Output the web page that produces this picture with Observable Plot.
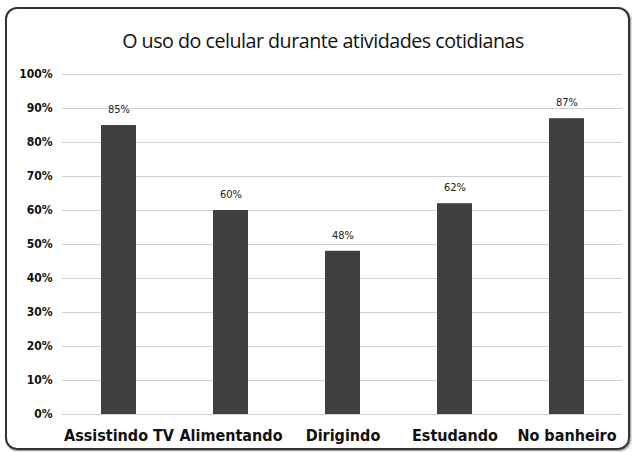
<!DOCTYPE html>
<html><head><meta charset="utf-8">
<script src="https://cdn.jsdelivr.net/npm/d3@7"></script>
<script src="https://cdn.jsdelivr.net/npm/@observablehq/plot@0.6"></script>
<style>
html,body{margin:0;padding:0;background:#fff;}
#wrap{position:relative;width:632px;height:452px;overflow:hidden;}
#box{position:absolute;left:5px;top:7px;width:621px;height:439px;border:2px solid #333;border-radius:12px;box-shadow:1px 1px 2px #888;}
#title{position:absolute;left:14px;width:618px;top:27px;text-align:center;font-family:"Open Sans",sans-serif;font-size:19.7px;color:#111;letter-spacing:-0.5px;}
#chart{position:absolute;left:0;top:0;}
#chart svg text{font-stretch:condensed;}
</style></head><body>
<div id="wrap"><div id="box"></div><div id="title">O uso do celular durante atividades cotidianas</div><div id="chart"></div></div>
<script>
const categories = ["Assistindo TV","Alimentando","Dirigindo","Estudando","No banheiro"];
const values = [85, 60, 48, 62, 87];
const yTicks = [0,10,20,30,40,50,60,70,80,90,100];
const data = categories.map((c,i)=>({cat:c, v:values[i]}));
const font = '"DejaVu Sans Condensed","DejaVu Sans",sans-serif';
const plot = Plot.plot({
  width: 632, height: 452,
  marginTop: 74, marginBottom: 38, marginLeft: 62, marginRight: 10,
  style: {background: "transparent", fontFamily: font},
  x: {domain: categories, paddingInner: 0.69, paddingOuter: 0.345, label: null, tickSize: 0},
  y: {domain: [0,100], ticks: yTicks, label: null, tickSize: 0, tickFormat: d => d + "%"},
  marks: [
    Plot.gridY(yTicks, {stroke: "#d0d0d0", strokeOpacity: 1, strokeWidth: 1}),
    Plot.barY(data, {x: "cat", y: "v", fill: "#404040"}),
    Plot.text(data, {x: "cat", y: "v", text: d => d.v + "%", dy: -16, fontSize: 11, fill: "#222"}),
    Plot.axisY({ticks: yTicks, tickSize: 0, tickPadding: 10, fontSize: 12, fontWeight: "bold", fill: "#111", tickFormat: d => d + "%"}),
    Plot.axisX({tickSize: 0, tickPadding: 15, fontSize: 16, fontWeight: "bold", fill: "#111"})
  ]
});
document.getElementById("chart").appendChild(plot);
</script>
</body></html>
